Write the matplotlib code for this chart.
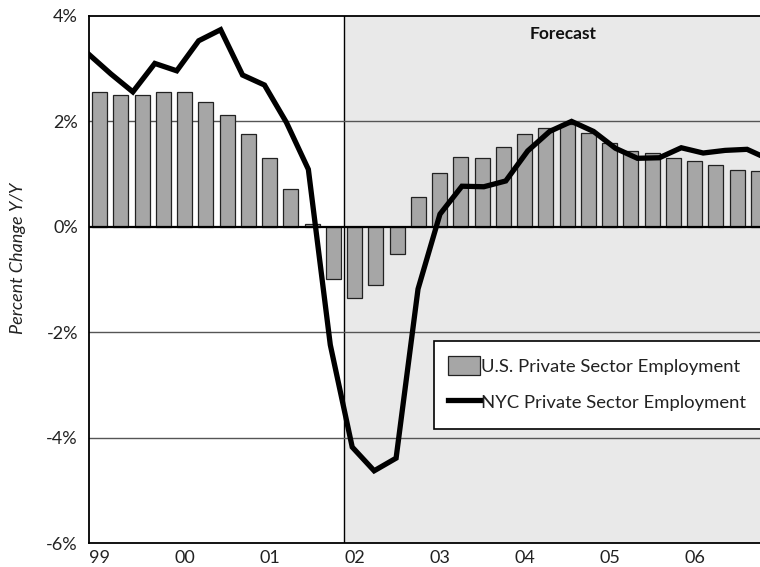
import numpy as np
import matplotlib
matplotlib.use("Agg")
import matplotlib.pyplot as plt
from matplotlib.patches import Patch, Rectangle
from matplotlib.lines import Line2D

plt.rcParams['font.family'] = ['Lato', 'DejaVu Sans']

# quarterly, 1999Q1 .. 2006Q4
year_labels = ["99", "00", "01", "02", "03", "04", "05", "06"]
us_private = [2.55, 2.50, 2.51, 2.56, 2.55, 2.37, 2.13, 1.76,
              1.30, 0.72, 0.06, -1.00, -1.36, -1.10, -0.51, 0.56,
              1.03, 1.32, 1.31, 1.51, 1.77, 1.88, 1.96, 1.78,
              1.59, 1.44, 1.40, 1.31, 1.25, 1.18, 1.08, 1.06]
nyc_private = [3.27, 2.90, 2.56, 3.10, 2.96, 3.53, 3.74, 2.88,
               2.69, 1.98, 1.09, -2.24, -4.18, -4.63, -4.39, -1.18,
               0.24, 0.77, 0.76, 0.87, 1.44, 1.81, 2.00, 1.81,
               1.49, 1.30, 1.31, 1.50, 1.40, 1.45, 1.47, 1.28]
forecast_start = 12  # first forecast quarter (2002Q1)

n = len(us_private)
x_bar = np.arange(n)
# the line sits on its own axis: points run edge to edge of the plot
x_line = -0.5 + np.arange(n) * n / (n - 1)

fig = plt.figure(figsize=(7.6, 5.67), dpi=100)
ax = fig.add_axes([89 / 760, 24 / 567, 680 / 760, 527 / 567])

ax.set_xlim(-0.5, n - 0.5)
ax.set_ylim(-6, 4)

# forecast shading
ax.axvspan(forecast_start - 0.5, n - 0.5, color="#e9e9e9", zorder=0, lw=0)
ax.axvline(forecast_start - 0.5, color="black", lw=1.0, zorder=1)

for y in [2, -2, -4]:
    ax.axhline(y, color="#555555", lw=1.0, zorder=1)

ax.bar(x_bar, us_private, width=0.7, color="#a6a6a6", edgecolor="#222222",
       linewidth=0.9, zorder=2)
ax.axhline(0, color="black", lw=1.6, zorder=3)
ax.plot(x_line, nyc_private, color="black", lw=3.8, zorder=4,
        solid_joinstyle="miter")

ax.text(21.8, 3.66, "Forecast", ha="center", va="center",
        fontsize=12.5, fontweight="bold", color="#111111")

ax.set_yticks([4, 2, 0, -2, -4, -6])
ax.set_yticklabels(["4%", "2%", "0%", "-2%", "-4%", "-6%"], fontsize=13,
                   color="#222222")
ax.set_xticks(np.arange(0, n, 4))
ax.set_xticklabels(year_labels, fontsize=13, color="#222222")
ax.tick_params(length=0)
ax.tick_params(axis="y", pad=8)
ax.tick_params(axis="x", pad=5)

for side in ["left", "top", "bottom"]:
    ax.spines[side].set_color("black")
    ax.spines[side].set_linewidth(1.3)
ax.spines["right"].set_visible(False)

fig.text(18 / 760, 1 - 258 / 567, "Percent Change Y/Y", rotation=90,
         ha="center", va="center", fontsize=13, style="italic",
         color="#222222")

# legend box runs past the right edge of the picture
box = Rectangle((345 / 680, 114 / 527), 0.6, 88 / 527, transform=ax.transAxes,
                facecolor="white", edgecolor="black", lw=1.2, zorder=5,
                clip_on=False)
ax.add_patch(box)

handles = [Patch(facecolor="#a6a6a6", edgecolor="#222222", linewidth=0.9),
           Line2D([0], [0], color="black", lw=3.8)]
leg = ax.legend(handles, ["U.S. Private Sector Employment",
                          "NYC Private Sector Employment"],
                loc="upper left", bbox_to_anchor=(359 / 680, 187 / 527),
                fontsize=13.3, frameon=False, handlelength=1.75,
                handleheight=1.2, handletextpad=0.05, borderpad=0,
                labelspacing=0.95, borderaxespad=0)
leg.set_zorder(6)
for t in leg.get_texts():
    t.set_color("#222222")

fig.savefig("out.png", dpi=100)
